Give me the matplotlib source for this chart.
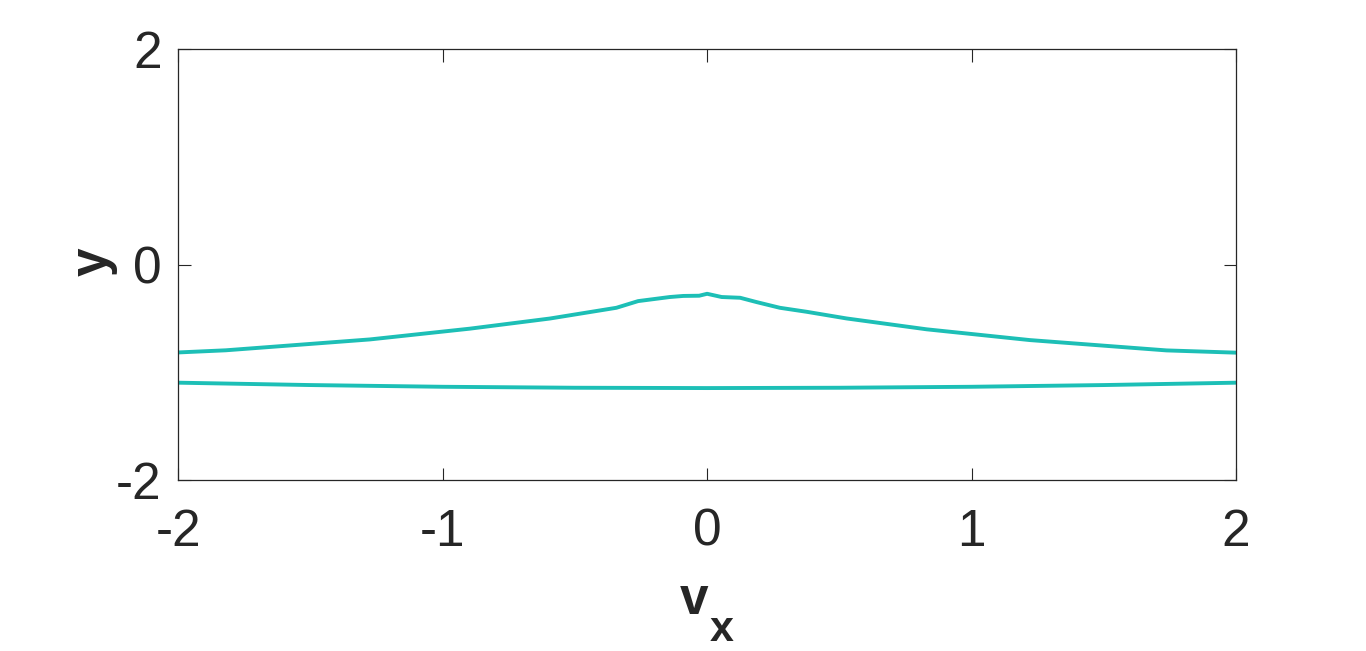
import numpy as np
import matplotlib
matplotlib.use('Agg')
import matplotlib.pyplot as plt

plt.rcParams['font.family'] = ['Liberation Sans', 'DejaVu Sans']

LINE_COLOR = '#1dbfb6'
TEXT_COLOR = '#262626'

# upper branch
upper_vx = [-2.0, -1.82, -1.275, -0.897, -0.595, -0.343, -0.261, -0.141, -0.09, -0.03, 0.0,
            0.055, 0.125, 0.187, 0.275, 0.376, 0.527, 0.83, 1.22, 1.737, 2.0]
upper_y = [-0.815, -0.795, -0.694, -0.594, -0.50, -0.40, -0.338, -0.30, -0.29, -0.288, -0.27,
           -0.30, -0.307, -0.347, -0.40, -0.437, -0.499, -0.60, -0.70, -0.796, -0.817]

# lower branch
lower_vx = [-2.0, -1.5, -1.0, -0.5, 0.0, 0.5, 1.0, 1.5, 2.0]
lower_y = [-1.096, -1.118, -1.134, -1.143, -1.146, -1.143, -1.134, -1.118, -1.096]

x_ticks = [-2, -1, 0, 1, 2]
y_ticks = [-2, 0, 2]

W, H = 1366, 651
fig = plt.figure(figsize=(W / 100, H / 100), dpi=100)
ax = fig.add_axes([0.1305, 0.2627, 0.7743, 0.6613])

ax.plot(upper_vx, upper_y, color=LINE_COLOR, lw=2.8)
ax.plot(lower_vx, lower_y, color=LINE_COLOR, lw=2.8)

ax.set_xlim(-2, 2)
ax.set_ylim(-2, 2)
ax.set_xticks(x_ticks)
ax.set_yticks(y_ticks)
ax.set_xticklabels([str(t) for t in x_ticks])
ax.set_yticklabels([str(t) for t in y_ticks])

ax.tick_params(direction='in', length=9, width=0.8, colors=TEXT_COLOR,
               labelsize=37, top=True, right=True)
ax.tick_params(axis='x', pad=20)
ax.tick_params(axis='y', pad=12)
for s in ax.spines.values():
    s.set_color(TEXT_COLOR)
    s.set_linewidth(0.9)

# axis labels, MATLAB-style big subscript
fig.text(694 / W, 1 - 601 / H, 'v', fontsize=37, fontweight='bold', color=TEXT_COLOR,
         ha='center', va='center')
fig.text(722 / W, 1 - 630 / H, 'x', fontsize=31, fontweight='bold', color=TEXT_COLOR,
         ha='center', va='center')
fig.text(93 / W, 1 - 262 / H, 'y', fontsize=37, fontweight='bold', color=TEXT_COLOR,
         ha='center', va='center', rotation=90)

fig.savefig('out.png', dpi=100)
